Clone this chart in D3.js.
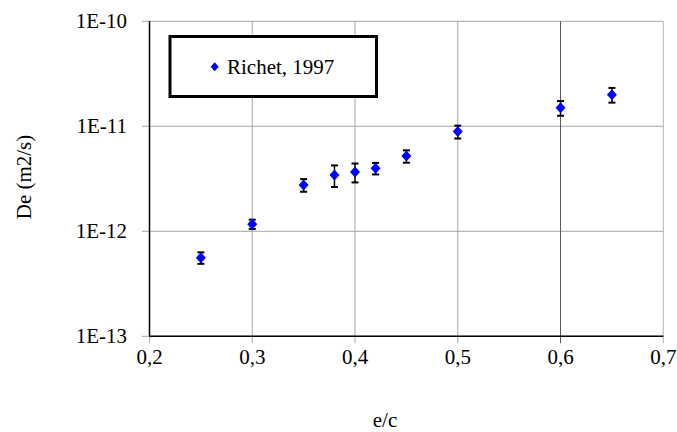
<!DOCTYPE html>
<html><head><meta charset="utf-8">
<script src="https://cdn.jsdelivr.net/npm/d3@7"></script>
</head><body style="margin:0">
<script>
const ecRatio = [0.25, 0.30, 0.35, 0.38, 0.40, 0.42, 0.45, 0.50, 0.60, 0.65];
const deValues = [5.6e-13, 1.17e-12, 2.76e-12, 3.44e-12, 3.67e-12, 3.98e-12, 5.2e-12, 8.9e-12, 1.5e-11, 2.0e-11];
const deErrors = [0.7e-13, 0.12e-12, 0.38e-12, 0.8e-12, 0.75e-12, 0.5e-12, 0.7e-12, 1.25e-12, 0.24e-11, 0.32e-11];
const xTicks = [0.2, 0.3, 0.4, 0.5, 0.6, 0.7];
const yTicks = [1e-13, 1e-12, 1e-11, 1e-10];
const yTickLabels = ["1E-13", "1E-12", "1E-11", "1E-10"];
const seriesName = "Richet, 1997";

const W = 677, H = 432;
const svg = d3.select("body").append("svg").attr("width", W).attr("height", H)
  .attr("font-family", "Times New Roman").style("font-family", "Tinos, 'Times New Roman', 'Liberation Serif'");
const x = d3.scaleLinear().domain([0.2, 0.7]).range([149.5, 663.3]);
const y = d3.scaleLog().domain([1e-13, 1e-10]).range([336.3, 21.3]);

function diamondPath(hw, hh) {
  return `M0,${-hh}L${hw},0L0,${hh}L${-hw},0Z`;
}
function txt(sel) {
  return sel.attr("font-size", 21).attr("font-family", "Times New Roman")
    .style("font-family", "Tinos, 'Times New Roman', 'Liberation Serif'");
}

// grid
svg.append("g").selectAll("line").data(yTicks).join("line")
  .attr("x1", 142).attr("x2", x(0.7)).attr("y1", d => y(d)).attr("y2", d => y(d))
  .attr("stroke", "#a6a6a6").attr("stroke-width", 1);
svg.append("g").selectAll("line").data(xTicks).join("line")
  .attr("x1", d => x(d)).attr("x2", d => x(d)).attr("y1", y(1e-10)).attr("y2", y(1e-13) + 7)
  .attr("stroke", d => Math.abs(d - 0.6) < 1e-9 ? "#555" : (Math.abs(d - 0.7) < 1e-9 ? "#b4b4b4" : "#a6a6a6"))
  .attr("stroke-width", 1);

// axes lines
svg.append("line").attr("x1", x(0.2)).attr("x2", x(0.2)).attr("y1", y(1e-10)).attr("y2", y(1e-13))
  .attr("stroke", "#000").attr("stroke-width", 1.5);
svg.append("line").attr("x1", x(0.2)).attr("x2", x(0.7)).attr("y1", y(1e-13)).attr("y2", y(1e-13))
  .attr("stroke", "#000").attr("stroke-width", 1.5);

// tick labels
txt(svg.append("g").selectAll("text").data(yTicks).join("text")
  .attr("x", 127).attr("y", d => y(d) + 7).attr("text-anchor", "end"))
  .text((d, i) => yTickLabels[i]);
txt(svg.append("g").selectAll("text").data(xTicks).join("text")
  .attr("x", d => x(d)).attr("y", 364).attr("text-anchor", "middle"))
  .text(d => d3.format(".1f")(d).replace(".", ","));

// titles
txt(svg.append("text").attr("transform", "translate(31,177) rotate(-90)").attr("text-anchor", "middle"))
  .text("De (m2/s)");
txt(svg.append("text").attr("x", 385).attr("y", 427).attr("text-anchor", "middle"))
  .text("e/c");

// error bars
const pts = ecRatio.map((v, i) => ({x: v, y: deValues[i], e: deErrors[i]}));
const eb = svg.append("g").attr("stroke", "#000").attr("stroke-width", 1.5);
pts.forEach(p => {
  const cx = x(p.x), t = y(p.y + p.e), b = y(p.y - p.e);
  eb.append("line").attr("x1", cx).attr("x2", cx).attr("y1", t).attr("y2", b);
  eb.append("line").attr("x1", cx - 3.5).attr("x2", cx + 3.5).attr("y1", t).attr("y2", t).attr("stroke-width", 2);
  eb.append("line").attr("x1", cx - 3.5).attr("x2", cx + 3.5).attr("y1", b).attr("y2", b).attr("stroke-width", 2);
});
svg.append("g").selectAll("path").data(pts).join("path")
  .attr("d", diamondPath(5, 5.5))
  .attr("transform", d => `translate(${x(d.x)},${y(d.y)})`)
  .attr("fill", "#0000ff");

// legend
svg.append("rect").attr("x", 170).attr("y", 36.5).attr("width", 206.5).attr("height", 60)
  .attr("fill", "#fff").attr("stroke", "#000").attr("stroke-width", 3);
svg.append("path").attr("d", diamondPath(4, 4.5))
  .attr("transform", "translate(214.7,66.7)").attr("fill", "#0000ff");
txt(svg.append("text").attr("x", 227).attr("y", 73.5)).text(seriesName);
</script>
</body></html>
